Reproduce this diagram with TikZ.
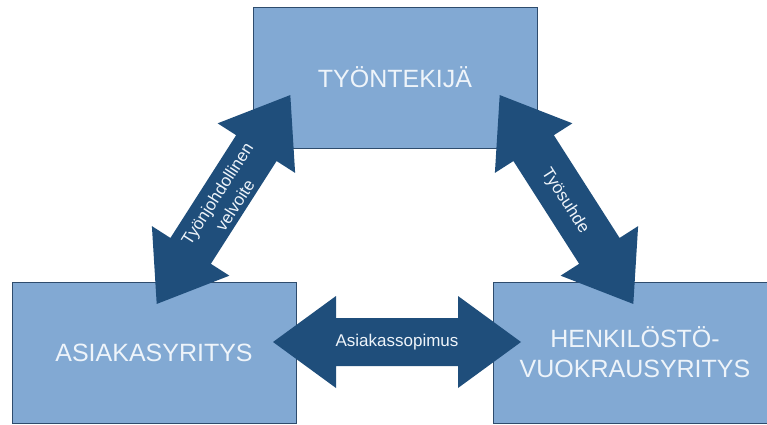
\documentclass[tikz,border=0pt]{standalone}
\usepackage{fontspec}
\setmainfont{Liberation Sans}
\usepackage{tikz}
\usetikzlibrary{positioning}
\definecolor{boxblue}{HTML}{82A9D3}
\definecolor{boxline}{HTML}{2E4C6D}
\definecolor{arrowblue}{HTML}{1F4E7B}
\definecolor{labelwhite}{HTML}{EEF4FA}
\tikzset{
  partybox/.style={draw=boxline, fill=boxblue, line width=0.9pt, minimum width=284pt, minimum height=141pt, inner sep=0pt, align=center, text=labelwhite, font=\fontsize{25}{30}\selectfont},
  arrowlabel/.style={align=center, text=labelwhite, font=\fontsize{17}{21}\selectfont, inner sep=0pt},
  dblarrow/.pic={\fill[arrowblue] (-124,0) -- (-61,46) -- (-61,24) -- (61,24) -- (61,46) -- (124,0) -- (61,-46) -- (61,-24) -- (-61,-24) -- (-61,-46) -- cycle;}
}

\begin{document}
\begin{tikzpicture}[x=1pt,y=1pt]
  \useasboundingbox (0,0) rectangle (767,424);
  \clip (0,0) rectangle (767,424);
  % the three parties
  \node[partybox] (worker) at (395,346.5) {TYÖNTEKIJÄ};
  \node[partybox] (client) at (154,71.5) {ASIAKASYRITYS};
  \node[partybox, text width=274pt] (agency) at (635,71.5) {HENKILÖSTÖ-\\VUOKRAUSYRITYS};
  % relations between them
  \pic[rotate=57.4] (leadarrow) at (223.5,224.5) {dblarrow};
  \pic[rotate=-57.4] (jobarrow) at (566.5,224.5) {dblarrow};
  \pic (dealarrow) at (397,82) {dblarrow};
  \node[arrowlabel, rotate=57.4] (leadlabel) at (226,224.5) {Työnjohdollinen\\velvoite};
  \node[arrowlabel, rotate=-57.4] (joblabel) at (565,223) {Työsuhde};
  \node[arrowlabel] (deallabel) at (397,82) {Asiakassopimus};
\end{tikzpicture}
\end{document}
